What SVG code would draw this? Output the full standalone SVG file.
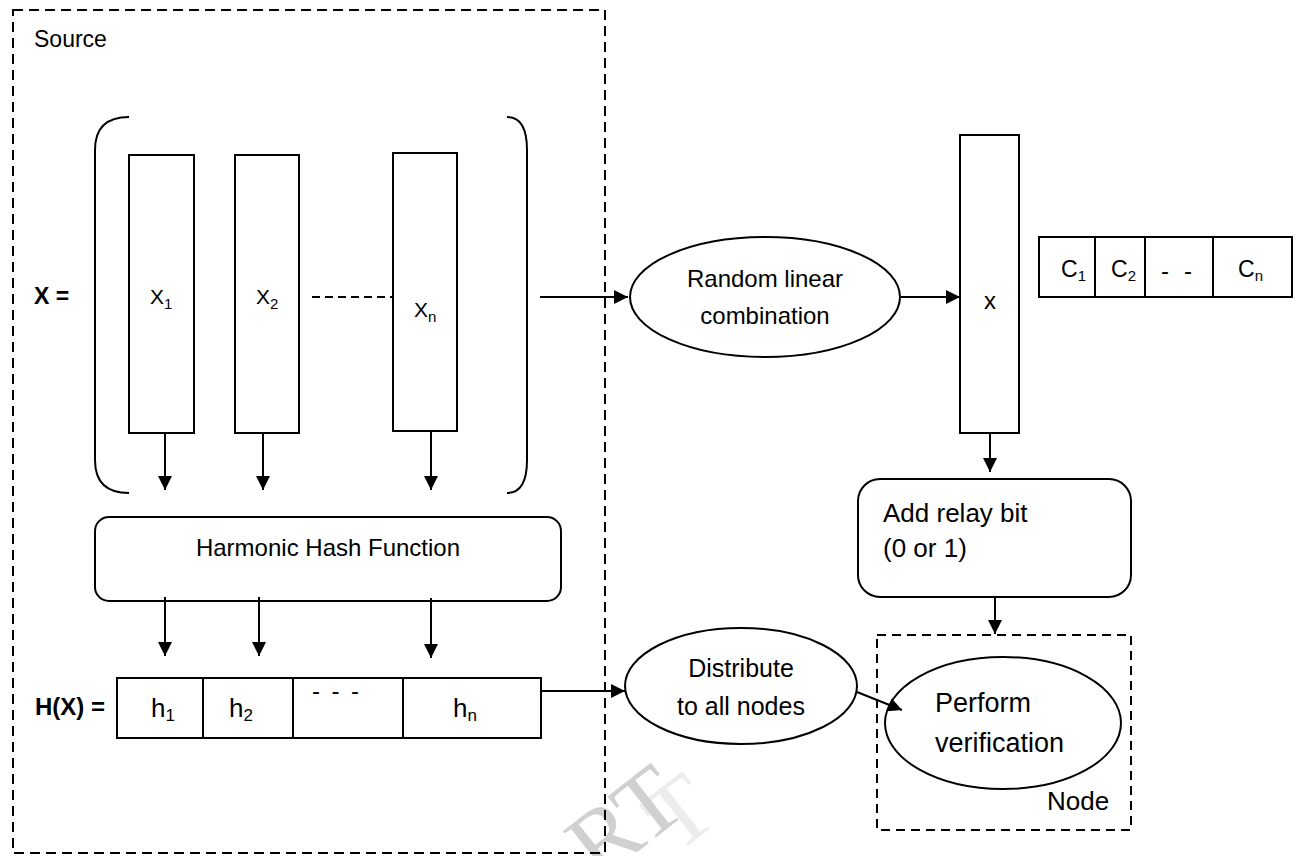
<svg xmlns="http://www.w3.org/2000/svg" width="1299" height="856" viewBox="0 0 1299 856">
<style>
.ln{stroke:#000;stroke-width:2;fill:none}
.bx{stroke:#000;stroke-width:2;fill:#fff}
.dsh{stroke:#000;stroke-width:2;fill:none;stroke-dasharray:10 6}
.t{font-family:"Liberation Sans",Arial,sans-serif;fill:#000}
.b{font-weight:bold}
.m{text-anchor:middle}
.wm{font-family:"Liberation Serif","Times New Roman",serif;font-size:95px}
</style>
<defs>
<marker id="ah" markerUnits="userSpaceOnUse" markerWidth="14" markerHeight="14" refX="14" refY="7" orient="auto">
<path d="M0,0 L14,7 L0,14 z" fill="#000"/>
</marker>
</defs>
<rect width="1299" height="856" fill="#fff"/>
<g id="watermark">
<text class="wm" x="676" y="855" fill="#ececec" transform="rotate(-38 676 855)">T</text>
<text class="wm" x="599" y="882" fill="#d0d0d0" transform="rotate(-38 599 882)">RT</text>
</g>
<g id="source">
<rect class="dsh" x="13" y="10" width="592" height="843"/>
<text class="t" x="34" y="47" font-size="23">Source</text>
</g>
<g id="matrix-X">
<text class="t b" x="34" y="304" font-size="23">X =</text>
<path class="ln" d="M129,117 Q95,117 95,150 L95,460 Q95,493 129,493"/>
<path class="ln" d="M507,117 Q527,117 527,150 L527,460 Q527,493 507,493"/>
</g>
<g id="X1">
<rect class="bx" x="129" y="155" width="65" height="278"/>
<text class="t" x="150" y="304" font-size="21">X<tspan font-size="15" dy="5">1</tspan></text>
</g>
<g id="X2">
<rect class="bx" x="235" y="155" width="64" height="278"/>
<text class="t" x="256" y="304" font-size="21">X<tspan font-size="15" dy="5">2</tspan></text>
</g>
<g id="Xn">
<rect class="bx" x="393" y="153" width="64" height="278"/>
<text class="t" x="414" y="317" font-size="21">X<tspan font-size="15" dy="5">n</tspan></text>
</g>
<g id="hash">
<rect class="bx" x="95" y="517" width="466" height="84" rx="14"/>
<text class="t m" x="328" y="556" font-size="24">Harmonic Hash Function</text>
</g>
<g id="HX">
<text class="t b" x="35" y="715" font-size="24">H(X) =</text>
<rect class="bx" x="117" y="678" width="424" height="60"/>
<line class="ln" x1="203" y1="678" x2="203" y2="738"/>
<line class="ln" x1="293" y1="678" x2="293" y2="738"/>
<line class="ln" x1="403" y1="678" x2="403" y2="738"/>
<text class="t" x="151" y="717" font-size="26">h<tspan font-size="17" dy="4">1</tspan></text>
<text class="t" x="229" y="717" font-size="26">h<tspan font-size="17" dy="4">2</tspan></text>
<text class="t" x="312" y="699" font-size="24" textLength="47" lengthAdjust="spacing">- - -</text>
<text class="t" x="453" y="717" font-size="26">h<tspan font-size="17" dy="4">n</tspan></text>
</g>
<g id="random">
<ellipse class="bx" cx="765" cy="297" rx="135" ry="60"/>
<text class="t m" x="765" y="287" font-size="24">Random linear</text>
<text class="t m" x="765" y="324" font-size="24">combination</text>
</g>
<g id="x-vector">
<rect class="bx" x="960" y="135" width="59" height="298"/>
<text class="t m" x="990" y="309" font-size="24">x</text>
</g>
<g id="coeffs">
<rect class="bx" x="1039" y="237" width="253" height="60"/>
<line class="ln" x1="1095" y1="237" x2="1095" y2="297"/>
<line class="ln" x1="1145" y1="237" x2="1145" y2="297"/>
<line class="ln" x1="1213" y1="237" x2="1213" y2="297"/>
<text class="t" x="1061" y="277" font-size="23">C<tspan font-size="15" dy="4">1</tspan></text>
<text class="t" x="1111" y="277" font-size="23">C<tspan font-size="15" dy="4">2</tspan></text>
<text class="t" x="1161" y="279" font-size="24" textLength="31" lengthAdjust="spacing">- -</text>
<text class="t" x="1238" y="277" font-size="23">C<tspan font-size="15" dy="4">n</tspan></text>
</g>
<g id="relay">
<rect class="bx" x="858" y="479" width="273" height="118" rx="22"/>
<text class="t" x="883" y="522" font-size="26">Add relay bit</text>
<text class="t" x="883" y="557" font-size="26">(0 or 1)</text>
</g>
<g id="distribute">
<ellipse class="bx" cx="741" cy="686" rx="116" ry="58"/>
<text class="t m" x="741" y="677" font-size="25">Distribute</text>
<text class="t m" x="741" y="715" font-size="25">to all nodes</text>
</g>
<g id="node">
<rect class="dsh" x="877" y="635" width="254" height="195" style="stroke-dasharray:9 6"/>
<ellipse class="bx" cx="1003" cy="723" rx="118" ry="66"/>
<text class="t" x="935" y="712" font-size="27">Perform</text>
<text class="t" x="935" y="752" font-size="27">verification</text>
<text class="t" x="1047" y="810" font-size="26">Node</text>
</g>
<g id="connectors">
<line class="ln" x1="312" y1="297" x2="393" y2="297" style="stroke-dasharray:8 5"/>
<line class="ln" x1="165" y1="433" x2="165" y2="490" marker-end="url(#ah)"/>
<line class="ln" x1="263" y1="433" x2="263" y2="490" marker-end="url(#ah)"/>
<line class="ln" x1="431" y1="431" x2="431" y2="490" marker-end="url(#ah)"/>
<line class="ln" x1="165" y1="597" x2="165" y2="656" marker-end="url(#ah)"/>
<line class="ln" x1="259" y1="597" x2="259" y2="656" marker-end="url(#ah)"/>
<line class="ln" x1="431" y1="598" x2="431" y2="658" marker-end="url(#ah)"/>
<line class="ln" x1="540" y1="297" x2="628" y2="297" marker-end="url(#ah)"/>
<line class="ln" x1="901" y1="297" x2="960" y2="297" marker-end="url(#ah)"/>
<line class="ln" x1="990" y1="433" x2="990" y2="472" marker-end="url(#ah)"/>
<line class="ln" x1="995" y1="597" x2="995" y2="634" marker-end="url(#ah)"/>
<line class="ln" x1="541" y1="691" x2="625" y2="691" marker-end="url(#ah)"/>
<line class="ln" x1="857" y1="692" x2="902" y2="710" marker-end="url(#ah)"/>
</g>
</svg>
